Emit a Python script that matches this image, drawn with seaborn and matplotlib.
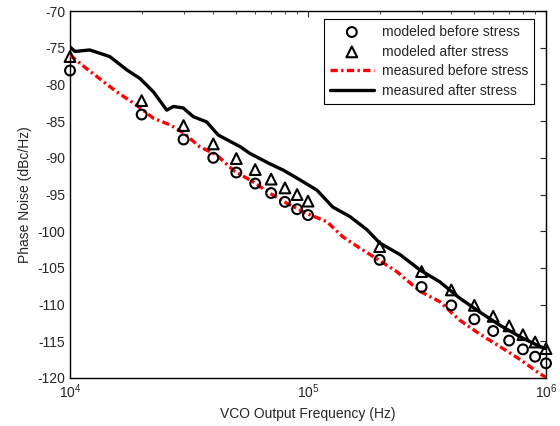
import numpy as np
import pandas as pd
import seaborn as sns
import matplotlib
matplotlib.use("Agg")
import matplotlib.pyplot as plt
from matplotlib.ticker import LogLocator, NullFormatter

# modeled points (1e4 .. 1e6)
freq_model = [1e4, 2e4, 3e4, 4e4, 5e4, 6e4, 7e4, 8e4, 9e4,
              1e5, 2e5, 3e5, 4e5, 5e5, 6e5, 7e5, 8e5, 9e5, 1e6]
model_before = [-78.1, -84.1, -87.5, -90.0, -92.0, -93.5, -94.8, -96.0, -97.0,
                -97.8, -103.9, -107.6, -110.1, -112.0, -113.6, -114.9, -116.1, -117.1, -118.0]
model_after = [-76.2, -82.2, -85.6, -88.1, -90.1, -91.6, -92.9, -94.1, -95.0,
               -95.9, -102.1, -105.5, -108.0, -110.1, -111.6, -112.9, -114.1, -115.1, -116.0]

# measured after stress (black)
freq_after = [1.0e4, 1.05e4, 1.21e4, 1.47e4, 1.73e4, 1.97e4, 2.24e4, 2.55e4, 2.72e4,
              2.99e4, 3.3e4, 3.75e4, 4.2e4, 5.2e4, 5.7e4, 6.9e4, 7.9e4, 9.25e4,
              1.09e5, 1.27e5, 1.5e5, 1.77e5, 2.0e5, 2.44e5, 2.96e5, 3.58e5,
              4.33e5, 5.26e5, 6.39e5, 7.8e5, 9.4e5, 1.0e6]
meas_after = [-74.9, -75.5, -75.3, -76.2, -78.0, -79.2, -81.0, -83.5, -83.0,
              -83.2, -84.4, -85.1, -86.9, -88.5, -89.4, -90.8, -91.7, -93.0,
              -94.4, -96.7, -98.0, -99.8, -101.6, -103.2, -105.3, -106.9,
              -109.1, -111.0, -112.8, -114.4, -115.7, -116.0]

# measured before stress (red)
freq_before = [1.0e4, 1.17e4, 1.38e4, 1.57e4, 1.9e4, 2.24e4, 2.63e4, 3.0e4, 3.51e4,
               4.13e4, 4.85e4, 5.9e4, 6.9e4, 8.16e4, 9.9e4, 1.2e5, 1.4e5, 1.65e5,
               2.0e5, 2.36e5, 2.96e5, 3.58e5, 4.33e5, 5.26e5, 6.39e5, 7.8e5, 9.4e5, 1.0e6]
meas_before = [-76.0, -77.8, -79.6, -81.0, -82.8, -84.6, -85.5, -86.6, -88.5,
               -89.6, -91.7, -93.3, -94.8, -96.2, -97.6, -98.7, -100.75, -102.3,
               -104.0, -105.5, -108.2, -109.6, -112.1, -114.0, -115.7, -117.5, -119.4, -119.9]

df_model = pd.DataFrame({'f': freq_model, 'before': model_before, 'after': model_after})
df_after = pd.DataFrame({'f': freq_after, 'pn': meas_after})
df_before = pd.DataFrame({'f': freq_before, 'pn': meas_before})

sns.set_style("white")
plt.rcParams['font.family'] = ['Liberation Sans', 'DejaVu Sans']
plt.rcParams['mathtext.fontset'] = 'custom'
plt.rcParams['mathtext.rm'] = 'Liberation Sans'
plt.rcParams['mathtext.it'] = 'Liberation Sans'
plt.rcParams['axes.unicode_minus'] = False
plt.rcParams['font.size'] = 10

fig = plt.figure(figsize=(5.6, 4.26), dpi=100)
ax = fig.add_axes([0.125, 0.1127, 0.85, 0.8613])

sns.scatterplot(data=df_model, x='f', y='before', ax=ax, marker='o', s=50,
                facecolor='none', edgecolor='black', linewidth=1.5,
                label='modeled before stress', clip_on=False, zorder=4)
sns.scatterplot(data=df_model, x='f', y='after', ax=ax, marker='^', s=60,
                facecolor='none', edgecolor='black', linewidth=1.5,
                label='modeled after stress', clip_on=False, zorder=4)
sns.lineplot(data=df_before, x='f', y='pn', ax=ax, color='red', linewidth=2.4,
             dashes=False, label='measured before stress', zorder=3)
sns.lineplot(data=df_after, x='f', y='pn', ax=ax, color='black', linewidth=2.4,
             label='measured after stress', zorder=3)
ax.lines[0].set_dashes([2.2, 1.0, 0.7, 1.0])

ax.set_xscale('log')
ax.set_xlim(1e4, 1e6)
ax.set_ylim(-120, -70)
ax.set_yticks(np.arange(-120, -69, 5))
ax.xaxis.set_minor_locator(LogLocator(base=10, subs=np.arange(2, 10)))
ax.xaxis.set_minor_formatter(NullFormatter())
ax.tick_params(which='both', direction='in', top=True, right=True, labelsize=10)
ax.tick_params(which='major', length=4)
ax.tick_params(which='minor', length=2.5)
for sp in ax.spines.values():
    sp.set_linewidth(1.0)
    sp.set_color('black')

ax.set_xlabel('VCO Output Frequency (Hz)', fontsize=10)
ax.set_ylabel('Phase Noise (dBc/Hz)', fontsize=10)

h, l = ax.get_legend_handles_labels()
leg = ax.legend(h, l, loc='upper right', bbox_to_anchor=(0.99, 0.997),
                fancybox=False, edgecolor='black', framealpha=1, fontsize=10,
                handlelength=3.2, borderpad=0.4, labelspacing=0.42, handletextpad=0.6)
leg.get_frame().set_linewidth(0.8)

fig.savefig('out.png', dpi=100)
